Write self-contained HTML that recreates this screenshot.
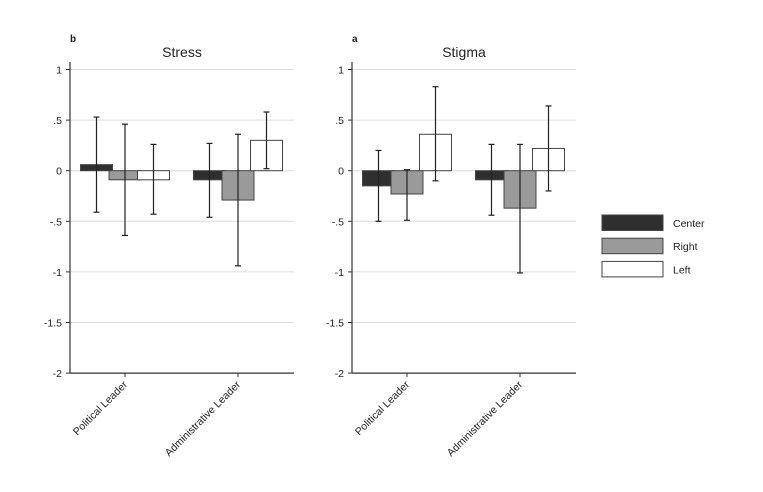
<!DOCTYPE html>
<html><head><meta charset="utf-8"><style>
html,body{margin:0;padding:0;background:#fff;}
svg text{font-family:"Liberation Sans",Arial,sans-serif;fill:#222;}
</style></head><body>
<svg id="chart" width="763" height="487" xmlns="http://www.w3.org/2000/svg"></svg>
<script>
const categories = ["Political Leader","Administrative Leader"];
const seriesNames = ["Center","Right","Left"];
const stressValues = [[0.06,-0.09,-0.09],[-0.09,-0.29,0.30]];
const stressLow = [[-0.41,-0.64,-0.43],[-0.46,-0.94,0.02]];
const stressHigh = [[0.53,0.46,0.26],[0.27,0.36,0.58]];
const stigmaValues = [[-0.15,-0.23,0.36],[-0.09,-0.37,0.22]];
const stigmaLow = [[-0.50,-0.49,-0.10],[-0.44,-1.01,-0.20]];
const stigmaHigh = [[0.20,0.01,0.83],[0.26,0.26,0.64]];
const yTicks = [1,0.5,0,-0.5,-1,-1.5,-2];
const yTickLabels = ["1",".5","0","-.5","-1","-1.5","-2"];

const NS="http://www.w3.org/2000/svg";
const svg=document.getElementById('chart');
const fills=["#2f2f2f","#9a9a9a","#ffffff"];
function mk(tag,attrs,parent){const e=document.createElementNS(NS,tag);for(const k in attrs)e.setAttribute(k,attrs[k]);(parent||svg).appendChild(e);return e;}
function yScale(v){return 170.7-v*101.2;}

function panel(ox,title,letter,vals,lo,hi,key){
  const g=mk('g',{});
  
  
  const right=ox+224;
  yTicks.forEach((t,i)=>{
    const y=yScale(t);
    if(t>-2){const gl=mk('line',{x1:ox,x2:right,y1:y,y2:y,stroke:'#dcdcdc','stroke-width':1},g);
      }
    const tk=mk('line',{x1:ox-4,x2:ox,y1:y,y2:y,stroke:'#333','stroke-width':1},g);
    
    const tx=mk('text',{x:ox-8,y:y+4,'text-anchor':'end','font-size':10.5},g);
    tx.textContent=yTickLabels[i];
    
  });
  const ya=mk('line',{x1:ox,x2:ox,y1:62,y2:yScale(-2),stroke:'#333','stroke-width':1.2},g);
  
  const xa=mk('line',{x1:ox,x2:right,y1:yScale(-2),y2:yScale(-2),stroke:'#333','stroke-width':1.2},g);
  
  const tt=mk('text',{x:ox+112,y:57,'text-anchor':'middle','font-size':14},g);
  tt.textContent=title;
  
  const lt=mk('text',{x:ox,y:42,'font-size':10,'font-weight':'bold'},g);
  lt.textContent=letter;
  
  const bw=32,step=28.5;
  categories.forEach((c,ci)=>{
    const cx=ox+55+ci*113;
    const tk=mk('line',{x1:cx,x2:cx,y1:yScale(-2),y2:yScale(-2)+4,stroke:'#333'},g);
    
    const lb=mk('text',{x:0,y:0,'text-anchor':'end','font-size':10.5,transform:`translate(${cx+3},${yScale(-2)+12}) rotate(-45)`},g);
    lb.textContent=c;
    
    vals[ci].forEach((v,si)=>{
      const bx=cx+(si-1)*step-bw/2;
      const y0=yScale(0),y1=yScale(v);
      const r=mk('rect',{x:bx,y:Math.min(y0,y1),width:bw,height:Math.abs(y1-y0),fill:fills[si],stroke:'#444','stroke-width':1},g);
      
      
    });
  });
  categories.forEach((c,ci)=>{
    const cx=ox+55+ci*113;
    vals[ci].forEach((v,si)=>{
      const ex=cx+(si-1)*step;
      const yl=yScale(lo[ci][si]),yh=yScale(hi[ci][si]);
      const eg=mk('g',{stroke:'#222','stroke-width':1.2},g);
      
      
      mk('line',{x1:ex,x2:ex,y1:yh,y2:yl},eg);
      mk('line',{x1:ex-3,x2:ex+3,y1:yh,y2:yh},eg);
      mk('line',{x1:ex-3,x2:ex+3,y1:yl,y2:yl},eg);
    });
  });
}
panel(70,"Stress","b",stressValues,stressLow,stressHigh,'stress');
panel(352,"Stigma","a",stigmaValues,stigmaLow,stigmaHigh,'stigma');

const lg=mk('g',{});


seriesNames.forEach((n,i)=>{
  const y=215+i*23.2;
  const r=mk('rect',{x:602,y:y,width:61,height:15.5,fill:fills[i],stroke:'#444','stroke-width':1},lg);
  
  const t=mk('text',{x:673,y:y+12,'font-size':10.5},lg);
  t.textContent=n;
  
});
</script>
</body></html>
